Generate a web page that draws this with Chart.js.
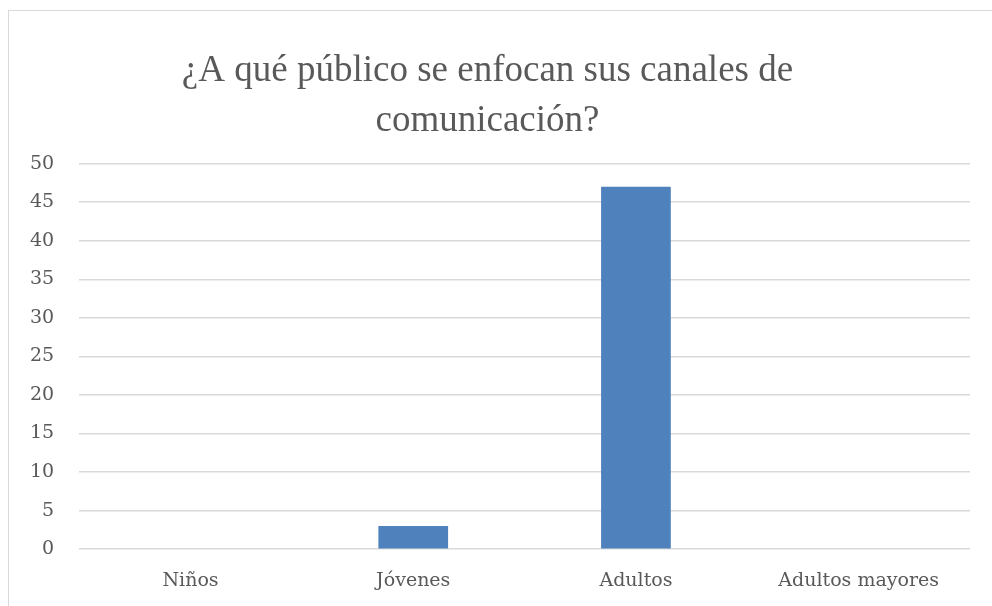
<!DOCTYPE html>
<html>
  <head>
    <meta charset="utf-8" />
    <title>¿A qué público se enfocan sus canales de comunicación?</title>
    <script src="https://cdn.jsdelivr.net/npm/chart.js@4.4.0/dist/chart.umd.min.js"></script>
    <style>
      html, body { margin: 0; padding: 0; background: #fff; overflow: hidden; }
      #frame {
        position: absolute; left: 8px; top: 10px; width: 1000px; height: 620px;
        border: 1.5px solid #d9d9d9; box-sizing: border-box;
      }
      #wrap { position: absolute; left: 0; top: 0; width: 992px; height: 612px; }
    </style>
  </head>
  <body>
    <div id="frame"></div>
    <div id="wrap"><canvas id="chart"></canvas></div>
    <script>
      const categories = ["Niños", "Jóvenes", "Adultos", "Adultos mayores"];
      const values = [0, 3, 47, 0];
      const titleLines = ["¿A qué público se enfocan sus canales de", "comunicación?"];

      const TITLE_FONT = "'Liberation Serif', serif";
      const TICK_FONT = "'DejaVu Serif', serif";
      const GREY = "#595959";

      const ctx = document.getElementById("chart").getContext("2d");
      new Chart(ctx, {
        type: "bar",
        data: {
          labels: categories,
          datasets: [{
            data: values,
            backgroundColor: "#4f81bd",
            categoryPercentage: 1,
            barPercentage: 0.313
          }]
        },
        options: {
          responsive: true,
          maintainAspectRatio: false,
          animation: false,
          layout: { padding: { top: 46, left: 5, right: 22, bottom: 0 } },
          plugins: {
            legend: { display: false },
            tooltip: { enabled: false },
            title: {
              display: true,
              text: titleLines,
              color: GREY,
              font: { family: TITLE_FONT, size: 37, weight: "normal", lineHeight: 1.36 },
              padding: { top: 0, bottom: 17 }
            }
          },
          scales: {
            x: {
              grid: { display: false, drawTicks: false },
              border: { display: false },
              ticks: { color: GREY, font: { family: TICK_FONT, size: 19 }, padding: 20 }
            },
            y: {
              min: 0, max: 50,
              grid: { color: "#d9d9d9", lineWidth: 1.5, drawTicks: false },
              border: { display: false },
              ticks: { stepSize: 5, color: GREY, font: { family: TICK_FONT, size: 19 }, padding: 25 }
            }
          }
        }
      });
    </script>
  </body>
</html>
